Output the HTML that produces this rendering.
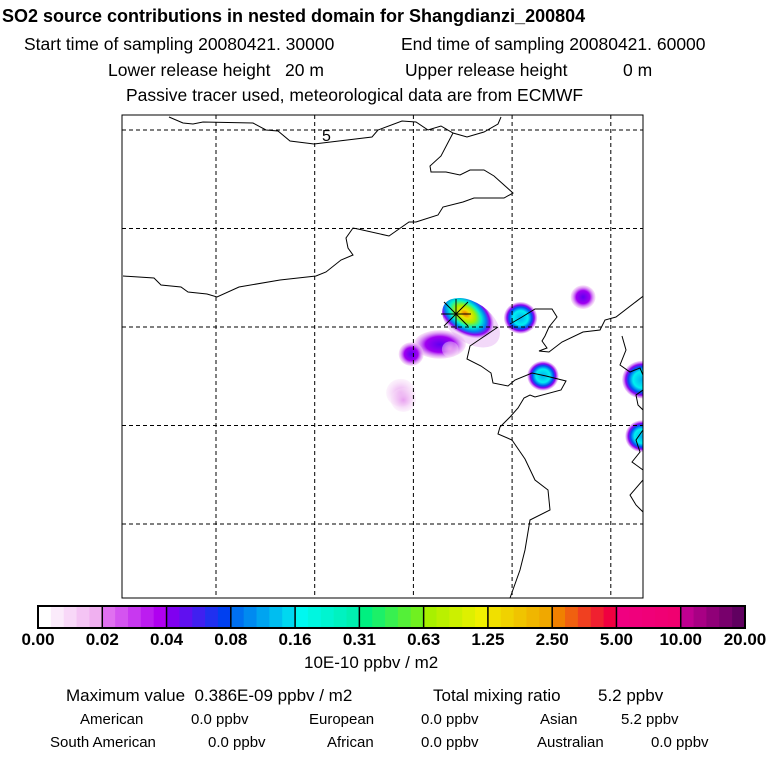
<!DOCTYPE html>
<html><head><meta charset="utf-8"><style>
html,body{margin:0;padding:0;background:#fff;}
body{width:768px;height:768px;position:relative;overflow:hidden;font-family:"Liberation Sans",sans-serif;color:#000;}
.t{position:absolute;white-space:nowrap;}
</style></head><body>
<div class="t" style="left:2px;top:6px;font-size:18px;font-weight:bold;">SO2 source contributions in nested domain for Shangdianzi_200804</div>
<div class="t" style="left:24px;top:34px;font-size:17.5px;">Start time of sampling 20080421. 30000</div>
<div class="t" style="left:401px;top:34px;font-size:17.5px;">End time of sampling 20080421. 60000</div>
<div class="t" style="left:108px;top:60px;font-size:17.5px;">Lower release height&nbsp;&nbsp;&nbsp;20 m</div>
<div class="t" style="left:405px;top:60px;font-size:17.5px;">Upper release height</div>
<div class="t" style="left:623px;top:60px;font-size:17.5px;">0 m</div>
<div class="t" style="left:126px;top:85px;font-size:17.5px;">Passive tracer used, meteorological data are from ECMWF</div>

<svg id="map" style="position:absolute;left:0;top:0" width="768" height="768">
<defs>
<radialGradient id="gS" cx="0.35" cy="0.4"><stop offset="0" stop-color="#f07000"/><stop offset="0.18" stop-color="#f0e000"/><stop offset="0.35" stop-color="#a0f000"/><stop offset="0.55" stop-color="#00f0d0"/><stop offset="0.72" stop-color="#0080f0"/><stop offset="0.85" stop-color="#9000f0"/><stop offset="1" stop-color="#e0a0f0" stop-opacity="0.4"/></radialGradient>
<radialGradient id="gC"><stop offset="0" stop-color="#00b0f0"/><stop offset="0.45" stop-color="#00f0f0"/><stop offset="0.68" stop-color="#0050f0"/><stop offset="0.82" stop-color="#9000f0"/><stop offset="1" stop-color="#e0a0f0" stop-opacity="0.4"/></radialGradient>
<radialGradient id="gP"><stop offset="0" stop-color="#6000f0"/><stop offset="0.55" stop-color="#a000f0"/><stop offset="1" stop-color="#f0c0f0" stop-opacity="0.4"/></radialGradient>
<radialGradient id="gL"><stop offset="0" stop-color="#e8a0f0"/><stop offset="1" stop-color="#f8e0f8" stop-opacity="0.4"/></radialGradient>
<clipPath id="clip"><rect x="122" y="115" width="521" height="483"/></clipPath>
</defs>
<g id="blobs" clip-path="url(#clip)"></g>
<g id="grid"></g>
<g fill="none" stroke="#000" stroke-width="1" clip-path="url(#clip)">
<polyline points="169,117 183,123 193,124 203,122 253,123 266,130 278,131 290,141 314,144 372,137 378,130 402,121 416,122 428,130 441,126 453,133 467,137 484,132 498,124 501,117"/>
<polyline points="453,133 441,156 430,166 431,172 446,172 460,175 470,170 484,170 494,176 513,193 504,198 474,198 463,202 443,207 438,215 416,222 409,222 389,236 358,229 353,228 346,238 348,248 353,255 341,260 326,272 316,276 280,280 239,287 217,297 207,294 188,292 181,287 161,285 154,278 123,276"/>
<polyline points="498,327 470,346 467,359 481,366 491,373 493,383 508,386 515,380 532,373 546,376 566,381 561,390 535,397 530,395 524,398 518,408 510,417 500,427 498,434 512,440 525,459 535,480 548,490 550,510 530,520 525,550 520,570 510,598"/>
<polyline points="510,324 522,317 535,309 552,309 557,317 549,327 545,336 542,341 547,348 539,351 549,352 562,342 583,332 600,330 605,320 616,317 646,294"/>
<polyline points="622,336 626,350 620,365 630,372 640,368 643,375"/>
<polyline points="643,390 636,395 638,405 643,410"/>
<polyline points="643,430 636,440 640,452 632,462 643,470"/>
<polyline points="643,480 630,495 636,505 643,512"/>
</g>
<g id="marker" stroke="#000" stroke-width="1">
<line x1="444" y1="302" x2="468" y2="326"/><line x1="444" y1="326" x2="468" y2="302"/>
<line x1="441" y1="314" x2="471" y2="314"/><line x1="456" y1="299" x2="456" y2="329"/>
</g>
<text x="322" y="141" font-size="16" font-family="Liberation Sans, sans-serif">5</text>
<rect x="122" y="115" width="521" height="483" fill="none" stroke="#000" stroke-width="1"/>
<g id="cbar"></g>
</svg>

<div class="t" style="left:304px;top:653px;font-size:17px;">10E-10 ppbv / m2</div>
<div class="t" style="left:66px;top:686px;font-size:17px;">Maximum value&nbsp;&nbsp;0.386E-09 ppbv / m2</div>
<div class="t" style="left:433px;top:686px;font-size:17px;">Total mixing ratio</div>
<div class="t" style="left:598px;top:686px;font-size:17px;">5.2 ppbv</div>
<div class="t" style="left:80px;top:711px;font-size:15px;">American</div>
<div class="t" style="left:191px;top:711px;font-size:15px;">0.0 ppbv</div>
<div class="t" style="left:309px;top:711px;font-size:15px;">European</div>
<div class="t" style="left:421px;top:711px;font-size:15px;">0.0 ppbv</div>
<div class="t" style="left:540px;top:711px;font-size:15px;">Asian</div>
<div class="t" style="left:621px;top:711px;font-size:15px;">5.2 ppbv</div>
<div class="t" style="left:50px;top:734px;font-size:15px;">South American</div>
<div class="t" style="left:208px;top:734px;font-size:15px;">0.0 ppbv</div>
<div class="t" style="left:327px;top:734px;font-size:15px;">African</div>
<div class="t" style="left:421px;top:734px;font-size:15px;">0.0 ppbv</div>
<div class="t" style="left:537px;top:734px;font-size:15px;">Australian</div>
<div class="t" style="left:651px;top:734px;font-size:15px;">0.0 ppbv</div>

<script>
const tickLabels = ["0.00","0.02","0.04","0.08","0.16","0.31","0.63","1.25","2.50","5.00","10.00","20.00"];
const gridLons = [0,1,2,3,4];
const gridLats = [0,1,2,3,4];
// blobs: centre x/y in map fraction, radius fraction, level
const blobX = [0.610, 0.670, 0.555, 0.535, 0.765, 0.885, 0.808, 0.998, 0.998, 0.540, 0.630];
const blobY = [0.475, 0.430, 0.495, 0.575, 0.420, 0.377, 0.540, 0.548, 0.665, 0.590, 0.485];
const blobR = [0.050, 0.062, 0.024, 0.028, 0.032, 0.024, 0.030, 0.038, 0.032, 0.024, 0.016];
const blobLevel = ["P","S","P","L","C","P","C","C","C","L","L"];

const NS='http://www.w3.org/2000/svg';
const X0=122,Y0=115,W=521,H=483;
function sx(f){return X0+f*W;}
function sy(f){return Y0+f*H;}
const blobs=document.getElementById('blobs');
const fills={S:'url(#gS)',C:'url(#gC)',P:'url(#gP)',L:'url(#gL)'};
blobX.forEach((bx,i)=>{
  const c=document.createElementNS(NS,'ellipse');
  const cx=sx(bx),cy=sy(blobY[i]);
  c.setAttribute('cx',cx);c.setAttribute('cy',cy);
  const isS=blobLevel[i]==='S';
  c.setAttribute('rx',blobR[i]*W);c.setAttribute('ry',blobR[i]*W*(isS?0.62:(blobLevel[i]==='P'&&i===0?0.55:0.95)));
  if(isS)c.setAttribute('transform','rotate(35 '+cx+' '+cy+')');
  c.setAttribute('fill',fills[blobLevel[i]]);
  
  
  blobs.appendChild(c);
});
const grid=document.getElementById('grid');
gridLons.forEach(i=>{
  const x=216+i*98.7;
  const l=document.createElementNS(NS,'line');
  l.setAttribute('x1',x);l.setAttribute('x2',x);l.setAttribute('y1',Y0);l.setAttribute('y2',Y0+H);
  l.setAttribute('stroke','#000');l.setAttribute('stroke-dasharray','4,3');
  
  
  grid.appendChild(l);
});
gridLats.forEach(i=>{
  const y=130+i*98.5;
  const l=document.createElementNS(NS,'line');
  l.setAttribute('x1',X0);l.setAttribute('x2',X0+W);l.setAttribute('y1',y);l.setAttribute('y2',y);
  l.setAttribute('stroke','#000');l.setAttribute('stroke-dasharray','4,3');
  
  
  grid.appendChild(l);
});
// colorbar
const segColors=[["#ffffff","#f0b0f0"],["#e070f0","#b000f0"],["#8000f0","#0040f0"],["#0070f0","#00d8f0"],["#00f8f0","#00f0b0"],["#00f080","#70f020"],["#a8f000","#f0f000"],["#f0e000","#f0a800"],["#f08000","#f00040"],["#f00080","#f00070"],["#c00090","#600060"]];
function lerp(a,b,t){const pa=[1,3,5].map(k=>parseInt(a.substr(k,2),16)),pb=[1,3,5].map(k=>parseInt(b.substr(k,2),16));return 'rgb('+pa.map((v,j)=>Math.round(v+(pb[j]-v)*t)).join(',')+')';}
const cb=document.getElementById('cbar');
const CX=38,CW=707,CY=606,CH=22,seg=CW/11;
for(let i=0;i<11;i++){
  for(let k=0;k<5;k++){
    const r=document.createElementNS(NS,'rect');
    r.setAttribute('x',CX+i*seg+k*seg/5);r.setAttribute('y',CY);r.setAttribute('width',seg/5+0.5);r.setAttribute('height',CH);
    r.setAttribute('fill',lerp(segColors[i][0],segColors[i][1],k/4));
    
    
    cb.appendChild(r);
  }
  const d=document.createElementNS(NS,'line');
  d.setAttribute('x1',CX+i*seg);d.setAttribute('x2',CX+i*seg);d.setAttribute('y1',CY);d.setAttribute('y2',CY+CH);
  d.setAttribute('stroke','#000');d.setAttribute('stroke-width','1.5');
  cb.appendChild(d);
}
const fr=document.createElementNS(NS,'rect');
fr.setAttribute('x',CX);fr.setAttribute('y',CY);fr.setAttribute('width',CW);fr.setAttribute('height',CH);
fr.setAttribute('fill','none');fr.setAttribute('stroke','#000');fr.setAttribute('stroke-width','2');


cb.appendChild(fr);
tickLabels.forEach((t,i)=>{
  const tx=document.createElementNS(NS,'text');
  tx.setAttribute('x',CX+i*seg);tx.setAttribute('y',645);
  tx.setAttribute('text-anchor','middle');tx.setAttribute('font-size','17');tx.setAttribute('font-weight','bold');
  tx.setAttribute('font-family','Liberation Sans, sans-serif');
  tx.textContent=t;
  
  
  cb.appendChild(tx);
});
</script>
</body></html>
